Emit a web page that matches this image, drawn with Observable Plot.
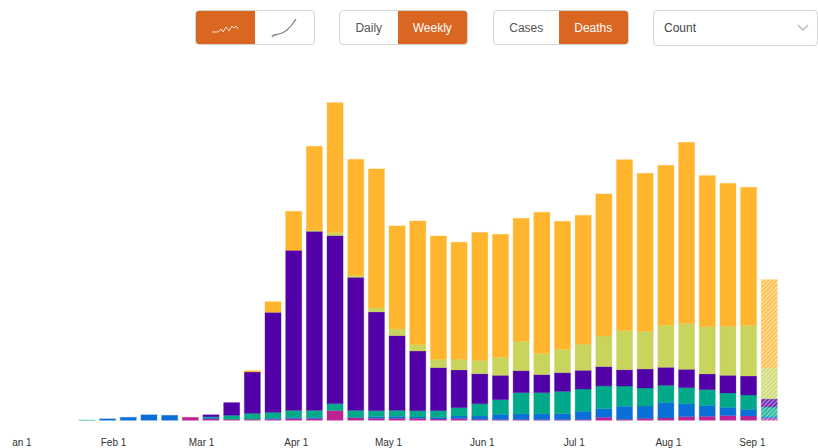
<!DOCTYPE html>
<html>
<head>
<meta charset="utf-8">
<script src="https://cdn.jsdelivr.net/npm/d3@7"></script>
<script src="https://cdn.jsdelivr.net/npm/@observablehq/plot@0.6"></script>
<style>
html,body{margin:0;padding:0;background:#fff;overflow:hidden;font-family:"Liberation Sans",Arial,sans-serif;}
#controls{position:relative;height:60px;width:818px;}
.grp{position:absolute;top:10px;height:35px;box-sizing:border-box;border:1px solid #d4d4d4;border-radius:4px;display:flex;overflow:hidden;font-size:12px;color:#555;background:#fff;}
.grp div{display:flex;align-items:center;justify-content:center;height:100%;}
.on{background:#d96621;color:#fff;}
#g1{left:195px;width:120px;} #g1 div{width:60px;background-repeat:no-repeat;background-position:center;}
#g2{left:339px;width:129px;} #g2 div:first-child{width:58px;} #g2 div:last-child{width:70px;}
#g3{left:493px;width:136px;} #g3 div:first-child{width:65px;} #g3 div:last-child{width:70px;}
#sel{left:653px;width:165px;height:36px;padding-left:10px;align-items:center;color:#444;
background-repeat:no-repeat;background-position:143px center;}
#plot{margin-left:12px;width:806px;height:388px;overflow:hidden;}
#plot svg{display:block;overflow:hidden;}
</style>
</head>
<body>
<div id="controls">
  <div class="grp" id="g1"><div class="on" id="ic1"></div><div id="ic2"></div></div>
  <div class="grp" id="g2"><div>Daily</div><div class="on">Weekly</div></div>
  <div class="grp" id="g3"><div>Cases</div><div class="on">Deaths</div></div>
  <div class="grp" id="sel">Count</div>
</div>
<div id="plot"></div>
<script>
const groups = ["Group 1","Group 2","Group 3","Group 4","Group 5","Group 6"];
const groupColors = ["#be2391","#0b6fd8","#00a98a","#5200a8","#c8d45c","#ffb62e"];

const magenta = [0,0,0,0,0,150,75,50,50,50,85,85,485,125,100,100,100,65,85,50,35,35,35,35,35,150,50,100,115,185,200,235,215,100];
const blue    = [0,75,150,275,250,0,50,0,0,50,65,65,0,25,85,100,65,85,135,165,265,285,285,300,415,435,650,615,785,635,550,415,335,85];
const teal    = [15,0,0,0,0,0,50,200,300,300,350,350,350,350,300,300,315,335,415,615,735,1065,1065,1115,1115,1135,1015,900,850,815,785,715,715,485];
const purple  = [0,0,0,0,0,0,100,635,2065,5000,8000,8950,8400,6650,4935,3735,2985,2150,1885,1500,1215,1100,900,935,935,965,815,950,900,915,785,885,950,400];
const lime    = [0,0,0,0,0,0,0,0,0,15,0,50,150,100,200,335,315,415,535,665,900,1465,1065,1165,1300,1535,1950,1885,2100,2300,2365,2450,2535,1565];
const orange  = [0,0,0,0,0,0,0,0,65,515,1950,4200,6500,5800,6950,5150,6185,6165,5850,6400,6150,6150,7050,6400,6450,7100,8550,7900,8000,9050,7550,7150,6900,4400];
const seriesValues = [magenta, blue, teal, purple, lime, orange];
const partialWeek = 33;

const monthLabels = ["Jan 1","Feb 1","Mar 1","Apr 1","May 1","Jun 1","Jul 1","Aug 1","Sep 1"];
const monthCells  = [-2.79,1.76,6.02,10.6,15.06,19.6,24.05,28.6,32.66];

const rows = [];
seriesValues.forEach((vals, s) => vals.forEach((v, week) => {
  if (v > 0) rows.push({week, value: v, series: week === partialWeek ? groups[s] + " partial" : groups[s]});
}));

const hatchIds = groups.map((_, i) => "hatch" + i);
const chart = Plot.plot({
  width: 806, height: 388,
  marginLeft: 64.6, marginRight: 38.4, marginTop: 20.3, marginBottom: 27.7,
  x: {domain: [0, 34], axis: null},
  y: {domain: [0, 17000], axis: null},
  color: {
    domain: [...groups, ...groups.map(g => g + " partial")],
    range: [...groupColors, ...hatchIds.map(id => `url(#${id})`)]
  },
  marks: [
    Plot.rectY(rows, {
      x: "week", interval: 1, y: "value", fill: "series", stroke: "series",
      strokeOpacity: 0.3, strokeWidth: 1, insetLeft: 2.3, insetRight: 2.3
    }),
    Plot.text(monthLabels, {
      x: (d, i) => monthCells[i], text: d => d, frameAnchor: "bottom", dy: 25,
      fontSize: 10, fill: "#333", fontFamily: "Liberation Sans"
    })
  ]
});

const defs = d3.select(chart).insert("defs", ":first-child");
groupColors.forEach((c, i) => {
  const p = defs.append("pattern").attr("id", hatchIds[i]).attr("patternUnits", "userSpaceOnUse")
    .attr("width", 3).attr("height", 3).attr("patternTransform", "rotate(45)");
  p.append("rect").attr("width", 3).attr("height", 3).attr("fill", c).attr("fill-opacity", 0.45);
  p.append("rect").attr("width", 1.4).attr("height", 3).attr("fill", c).attr("fill-opacity", 0.9);
});
document.getElementById("plot").appendChild(chart);

const icon = s => `url("data:image/svg+xml,${encodeURIComponent(s)}")`;
document.getElementById("ic1").style.backgroundImage = icon('<svg xmlns="http://www.w3.org/2000/svg" width="30" height="12"><path d="M1 10h6l3-3 2 3 3-5 3 4 3-5 2 2 2-2 2 3" fill="none" stroke="#f6e0d0" stroke-width="1"/></svg>');
document.getElementById("ic2").style.backgroundImage = icon('<svg xmlns="http://www.w3.org/2000/svg" width="28" height="22"><path d="M1 20c1-3 4-2 7-3 6-1 12-7 17-15" fill="none" stroke="#777" stroke-width="1.2"/></svg>');
document.getElementById("sel").style.backgroundImage = icon('<svg xmlns="http://www.w3.org/2000/svg" width="12" height="8"><path d="M1 1l5 5 5-5" fill="none" stroke="#bbb" stroke-width="1.4"/></svg>');
</script>
</body>
</html>
